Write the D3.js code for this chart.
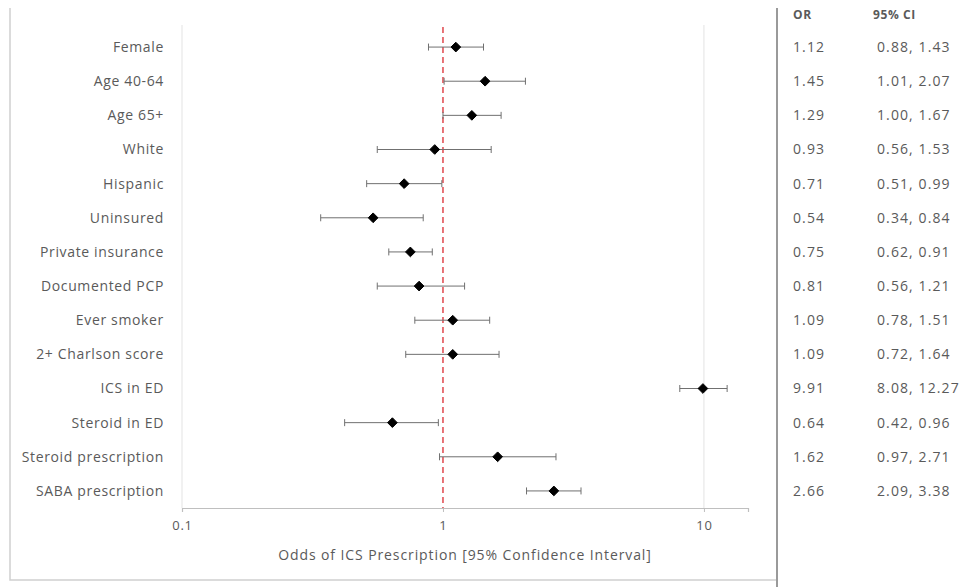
<!DOCTYPE html>
<html>
<head>
<meta charset="utf-8">
<script src="https://cdn.jsdelivr.net/npm/d3@7"></script>
<style>
  body { margin: 0; background: #fff; }
  text { font-family: "Open Sans", Lato, sans-serif; }
</style>
</head>
<body>
<svg id="chart" width="966" height="587"></svg>
<script>
// data
const labels = ["Female", "Age 40-64", "Age 65+", "White", "Hispanic", "Uninsured",
    "Private insurance", "Documented PCP", "Ever smoker", "2+ Charlson score",
    "ICS in ED", "Steroid in ED", "Steroid prescription", "SABA prescription"];
const oddsRatio = [1.12, 1.45, 1.29, 0.93, 0.71, 0.54, 0.75, 0.81, 1.09, 1.09, 9.91, 0.64, 1.62, 2.66];
const ciLow = [0.88, 1.01, 1.00, 0.56, 0.51, 0.34, 0.62, 0.56, 0.78, 0.72, 8.08, 0.42, 0.97, 2.09];
const ciHigh = [1.43, 2.07, 1.67, 1.53, 0.99, 0.84, 0.91, 1.21, 1.51, 1.64, 12.27, 0.96, 2.71, 3.38];
const tickValues = [0.1, 1, 10];
const tickLabels = ["0.1", "1", "10"];

const svg = d3.select("#chart");
const plot = {left: 182, right: 748, top: 30, bottom: 508};
const grey = "#5a5a5a";

// outer frame of the chart
svg.append("path")
    .attr("d", "M10,8 V580 H777")
    .attr("fill", "none")
    .attr("stroke", "#d0d0d0")
    .attr("stroke-width", 1.5);
svg.append("line")
    .attr("x1", 777).attr("x2", 777).attr("y1", 8).attr("y2", 587)
    .attr("stroke", "#9a9a9a").attr("stroke-width", 2);

const x = d3.scaleLog().domain([0.1, 14.75]).range([plot.left, plot.right]);
const y = d3.scaleBand().domain(labels).range([plot.top, plot.bottom]);
const cy = d => y(d) + y.bandwidth() / 2;

// gridlines
svg.append("g")
    .selectAll("line")
    .data([0.1, 10])
    .enter()
    .append("line")
    .attr("x1", d => x(d)).attr("x2", d => x(d))
    .attr("y1", plot.top - 5).attr("y2", plot.bottom)
    .attr("stroke", "#e3e3e3").attr("stroke-width", 1);

// x axis
const xAxis = d3.axisBottom(x)
    .tickValues(tickValues)
    .tickFormat((d, i) => tickLabels[i])
    .tickSize(4)
    .tickPadding(9);
const gx = svg.append("g")
    .attr("transform", `translate(0,${plot.bottom})`)
    .call(xAxis);
gx.select(".domain").attr("stroke", "#bfbfbf").attr("stroke-width", 1.2);
gx.selectAll(".tick line").attr("stroke", "#bfbfbf");
gx.selectAll(".tick text").attr("fill", grey).attr("font-size", 13)
    .attr("letter-spacing", 0.8)
    .attr("font-family", "\"Open Sans\", sans-serif");

svg.append("text")
    .attr("x", (plot.left + plot.right) / 2)
    .attr("y", 560)
    .attr("text-anchor", "middle")
    .attr("font-size", 14)
    .attr("letter-spacing", 0.9)
    .attr("fill", grey)
    .text("Odds of ICS Prescription [95% Confidence Interval]");

// reference line at OR = 1
svg.append("line")
    .attr("x1", x(1)).attr("x2", x(1))
    .attr("y1", plot.top - 3).attr("y2", plot.bottom)
    .attr("stroke", "#e0474c")
    .attr("stroke-width", 1.5)
    .attr("stroke-dasharray", "6,4");

// category labels
svg.append("g")
    .selectAll("text")
    .data(labels)
    .enter()
    .append("text")
    .attr("x", 164)
    .attr("y", d => cy(d))
    .attr("dy", "0.35em")
    .attr("text-anchor", "end")
    .attr("font-size", 14)
    .attr("letter-spacing", 0.65)
    .attr("fill", grey)
    .text(d => d);

const rows = labels.map((l, i) => ({label: l, or: oddsRatio[i], lo: ciLow[i], hi: ciHigh[i]}));

// error bars
const bars = svg.append("g")
    .attr("stroke", "#707070")
    .attr("stroke-width", 1);
bars.selectAll("line.ci")
    .data(rows)
    .enter()
    .append("line")
    .attr("class", "ci")
    .attr("x1", d => x(d.lo)).attr("x2", d => x(d.hi))
    .attr("y1", d => cy(d.label)).attr("y2", d => cy(d.label));
["lo", "hi"].forEach(k => {
    bars.selectAll(`line.cap-${k}`)
        .data(rows)
        .enter()
        .append("line")
        .attr("class", `cap-${k}`)
        .attr("x1", d => x(d[k])).attr("x2", d => x(d[k]))
        .attr("y1", d => cy(d.label) - 3.5).attr("y2", d => cy(d.label) + 3.5);
});

// point estimates
const diamond = d3.symbol().type(d3.symbolDiamond2).size(60);
svg.append("g")
    .selectAll("path")
    .data(rows)
    .enter()
    .append("path")
    .attr("d", diamond)
    .attr("transform", d => `translate(${x(d.or)},${cy(d.label)})`)
    .attr("fill", "#000")
    .attr("stroke", "#000")
    .attr("stroke-width", 1)
    .attr("stroke-linejoin", "round");

// table on the right
const f2 = d3.format(".2f");
svg.append("text").attr("x", 793).attr("y", 19).attr("letter-spacing", 0.6)
    .attr("font-size", 12).attr("font-weight", "bold").attr("fill", grey).text("OR");
svg.append("text").attr("x", 873).attr("y", 19).attr("letter-spacing", 0.6)
    .attr("font-size", 12).attr("font-weight", "bold").attr("fill", grey).text("95% CI");

const table = svg.append("g").attr("font-size", 14).attr("letter-spacing", 1.1).attr("fill", grey);
table.selectAll("text.or")
    .data(rows)
    .enter()
    .append("text")
    .attr("class", "or")
    .attr("x", 793)
    .attr("y", d => cy(d.label))
    .attr("dy", "0.35em")
    .text(d => f2(d.or));
table.selectAll("text.ci")
    .data(rows)
    .enter()
    .append("text")
    .attr("class", "ci")
    .attr("x", 877)
    .attr("y", d => cy(d.label))
    .attr("dy", "0.35em")
    .text(d => `${f2(d.lo)}, ${f2(d.hi)}`);
</script>
</body>
</html>
